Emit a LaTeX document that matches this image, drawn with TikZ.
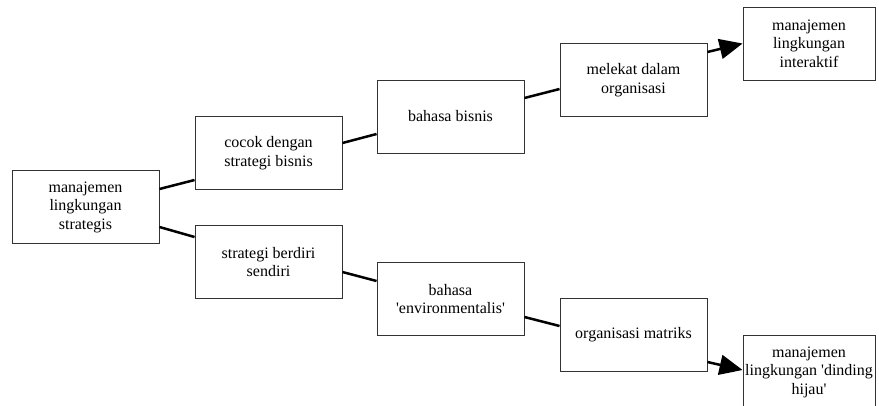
\documentclass[tikz,border=0pt]{standalone}
\usepackage{fontspec}
\setmainfont{Liberation Serif}
\usetikzlibrary{arrows.meta}
\begin{document}
\begin{tikzpicture}[x=1pt,y=-1pt,
  box/.style={draw=black!80, line width=0.9pt, inner sep=0pt, minimum height=73pt,
    align=center, font=\fontsize{16}{18.5}\selectfont},
  wide/.style={box, minimum width=147pt},
  narrow/.style={box, minimum width=132pt},
  link/.style={line width=2.5pt},
  flow/.style={link, -{Triangle[length=23pt,width=20pt]}}]
\useasboundingbox (0,0) rectangle (879,405);

% boxes
\node[wide]   (strat)   at (85.5,207)  {manajemen\\lingkungan\\strategis};
\node[wide]   (fit)     at (268.5,153) {cocok dengan\\strategi bisnis};
\node[wide]   (bisnis)  at (450.5,116.5) {bahasa bisnis};
\node[wide]   (melekat) at (633.5,80)  {melekat dalam\\organisasi};
\node[narrow] (inter)   at (809,43.5)  {manajemen\\lingkungan\\interaktif};
\node[wide]   (sendiri) at (268.5,262) {strategi berdiri\\sendiri};
\node[wide]   (env)     at (450.5,299) {bahasa\\\textquotesingle environmentalis\textquotesingle};
\node[wide]   (matriks) at (633.5,335) {organisasi matriks};
\node[narrow] (hijau)   at (809,372)   {manajemen\\lingkungan \textquotesingle dinding\\hijau\textquotesingle};

% upper branch
\draw[link] ([yshift=18pt]strat.east)   -- ([yshift=-27pt]fit.west);
\draw[link] ([yshift=10pt]fit.east)     -- ([yshift=-17.5pt]bisnis.west);
\draw[link] ([yshift=18.5pt]bisnis.east) -- ([yshift=-9pt]melekat.west);
\draw[flow] ([yshift=28pt]melekat.east) -- (inter.west);

% lower branch
\draw[link] ([yshift=-20pt]strat.east)  -- ([yshift=25pt]sendiri.west);
\draw[link] ([yshift=-10pt]sendiri.east) -- ([yshift=18pt]env.west);
\draw[link] ([yshift=-18pt]env.east)    -- ([yshift=9pt]matriks.west);
\draw[flow] ([yshift=-27pt]matriks.east) -- ([yshift=2pt]hijau.west);
\end{tikzpicture}
\end{document}
